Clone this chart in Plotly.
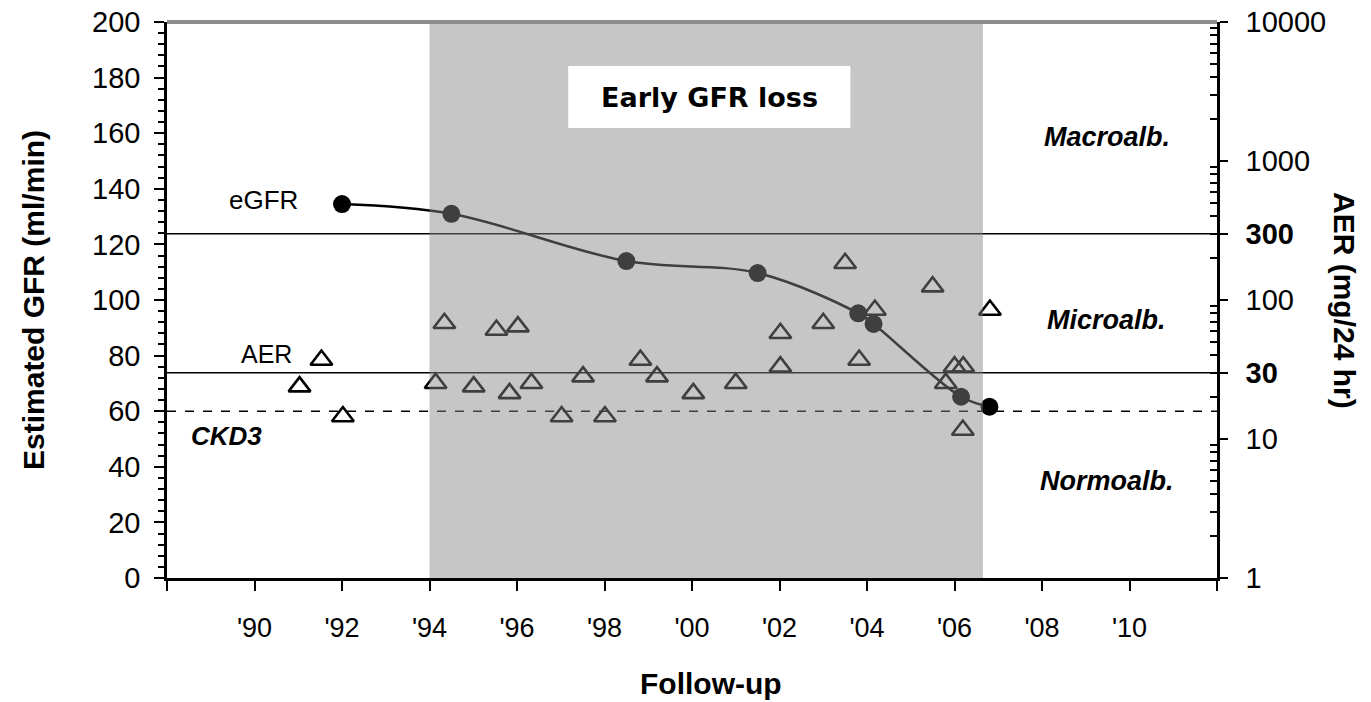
import plotly.graph_objects as go

# ---- data ----
egfr_year = [1992.0, 1994.5, 1998.5, 2001.5, 2003.8, 2004.15, 2006.15, 2006.8]
egfr_value = [134.5, 131, 114, 109.7, 95.2, 91.4, 65.2, 61.6]

aer_year = [1991.03, 1991.53, 1992.02, 1994.14, 1994.34, 1995.01, 1995.53, 1995.83,
            1996.02, 1996.33, 1997.02, 1997.51, 1998.01, 1998.82, 1999.20, 2000.03,
            2001.0, 2002.02, 2002.02, 2003.0, 2003.5, 2003.82, 2004.18, 2005.5,
            2005.8, 2006.0, 2006.2, 2006.19, 2006.81]
aer_value = [23.8, 37, 14.5, 25.2, 68, 23.8, 60.8, 21.3,
             64.3, 25.2, 14.5, 28.1, 14.5, 37, 28.1, 21.3,
             25.2, 33.1, 57.6, 68, 183.7, 37, 84.7, 124.7,
             25.2, 33.1, 33.1, 11.6, 84.7]

x_tickvals = list(range(1988, 2013, 2))
x_ticktext = ["", "'90", "'92", "'94", "'96", "'98", "'00", "'02", "'04", "'06", "'08", "'10", ""]
y_tickvals = list(range(0, 201, 20))
y2_tickvals = [1, 10, 30, 100, 300, 1000, 10000]
y2_ticktext = ["1", "10", "<b>30</b>", "100", "<b>300</b>", "1000", "10000"]

early_loss_start = 1994.0
early_loss_end = 2006.65
ckd3_gfr = 60
aer_micro = 30
aer_macro = 300

FONT = "Liberation Sans, Arial, sans-serif"

fig = go.Figure()

fig.add_trace(go.Scatter(
    x=egfr_year, y=egfr_value, mode="lines+markers", yaxis="y",
    line=dict(color="black", width=2.5, shape="spline", smoothing=1.0),
    marker=dict(color="black", size=18, symbol="circle"),
    showlegend=False, cliponaxis=False))

fig.add_trace(go.Scatter(
    x=aer_year, y=aer_value, mode="markers", yaxis="y2",
    marker=dict(symbol="triangle-up-open", size=19, color="black",
                line=dict(color="black", width=2.6)),
    showlegend=False, cliponaxis=False))

shapes = [
    dict(type="line", xref="paper", x0=0, x1=1, yref="y2", y0=aer_macro, y1=aer_macro,
         line=dict(color="black", width=1.6), layer="below"),
    dict(type="line", xref="paper", x0=0, x1=1, yref="y2", y0=aer_micro, y1=aer_micro,
         line=dict(color="black", width=1.6), layer="below"),
    dict(type="line", xref="paper", x0=0, x1=1, yref="y", y0=ckd3_gfr, y1=ckd3_gfr,
         line=dict(color="black", width=1.6, dash="dash"), layer="below"),
    dict(type="rect", xref="x", x0=early_loss_start, x1=early_loss_end, yref="paper", y0=0, y1=1,
         fillcolor="#858585", opacity=0.47, line=dict(width=0), layer="above"),
    dict(type="rect", xref="x", x0=1997.17, x1=2003.62, yref="y", y0=161.9, y1=184.2,
         fillcolor="white", line=dict(width=0), layer="above"),
    dict(type="line", xref="paper", x0=0, x1=1, yref="paper", y0=1, y1=1,
         line=dict(color="#8c8c8c", width=4), layer="above"),
]

annotations = [
    dict(x=2000.4, y=173, xref="x", yref="y", text="<b>Early GFR loss</b>", showarrow=False,
         font=dict(family="DejaVu Sans, Verdana, sans-serif", size=27, color="black")),
    dict(x=1990.2, y=136, xref="x", yref="y", text="eGFR", showarrow=False,
         font=dict(family=FONT, size=26, color="black")),
    dict(x=1990.28, y=80.6, xref="x", yref="y", text="AER", showarrow=False,
         font=dict(family=FONT, size=25, color="black")),
    dict(x=1989.37, y=51, xref="x", yref="y", text="<b><i>CKD3</i></b>", showarrow=False,
         font=dict(family=FONT, size=26, color="black")),
    dict(x=2009.48, y=158.6, xref="x", yref="y", text="<b><i>Macroalb.</i></b>", showarrow=False,
         font=dict(family=FONT, size=27, color="black")),
    dict(x=2009.48, y=92.8, xref="x", yref="y", text="<b><i>Microalb.</i></b>", showarrow=False,
         font=dict(family=FONT, size=27, color="black")),
    dict(x=2009.48, y=34.9, xref="x", yref="y", text="<b><i>Normoalb.</i></b>", showarrow=False,
         font=dict(family=FONT, size=27, color="black")),
    # axis titles
    dict(x=0, y=0.5, xref="paper", yref="paper", xshift=-134, text="<b>Estimated GFR (ml/min)</b>",
         textangle=-90, showarrow=False, xanchor="center", yanchor="middle",
         font=dict(family=FONT, size=30, color="black")),
    dict(x=1, y=0.5, xref="paper", yref="paper", xshift=128, yshift=0, text="<b>AER (mg/24 hr)</b>",
         textangle=90, showarrow=False, xanchor="center", yanchor="middle",
         font=dict(family=FONT, size=30, color="black")),
    dict(x=0.5, y=0, xref="paper", yref="paper", xshift=19, yshift=-105, text="<b>Follow-up</b>",
         showarrow=False, xanchor="center", yanchor="middle",
         font=dict(family=FONT, size=30, color="black")),
]

fig.update_layout(
    width=1371, height=702,
    margin=dict(l=167, r=154, t=22, b=124, autoexpand=False),
    paper_bgcolor="white", plot_bgcolor="white",
    shapes=shapes, annotations=annotations,
    xaxis=dict(
        range=[1988, 2012], tickmode="array", tickvals=x_tickvals, ticktext=x_ticktext,
        ticks="outside", ticklen=10, tickwidth=2, tickcolor="black", automargin=False,
        showline=True, linecolor="black", linewidth=2.5, showgrid=False, zeroline=False,
        tickfont=dict(family=FONT, size=27, color="black"),
        ticklabelstandoff=14, ticklabeloverflow="allow",
    ),
    yaxis=dict(
        range=[0, 200], tickmode="array", tickvals=y_tickvals, automargin=False,
        ticks="outside", ticklen=10, tickwidth=2, tickcolor="black",
        minor=dict(dtick=4, ticks="outside", ticklen=6, tickwidth=1.5, tickcolor="black", showgrid=False),
        showline=True, linecolor="black", linewidth=2.5, showgrid=False, zeroline=False,
        tickfont=dict(family=FONT, size=29, color="black"),
        ticklabelstandoff=8, ticklabeloverflow="allow",
    ),
    yaxis2=dict(
        type="log", range=[0, 4], overlaying="y", side="right", automargin=False,
        tickmode="array", tickvals=y2_tickvals, ticktext=y2_ticktext,
        ticks="outside", ticklen=8, tickwidth=2, tickcolor="black",
        minor=dict(tickmode="array",
                   tickvals=[m * 10 ** e for e in range(0, 4) for m in range(2, 10)],
                   ticks="inside", ticklen=7, tickwidth=1.5, tickcolor="black", showgrid=False),
        showline=True, linecolor="black", linewidth=2.5, showgrid=False, zeroline=False,
        tickfont=dict(family=FONT, size=29, color="black"),
        ticklabelstandoff=12, ticklabeloverflow="allow",
    ),
)

# remove the page's default 8px body margin so the figure fills the window exactly
fig.write_html("out.html", config={"displayModeBar": False},
               post_script="document.body.style.margin='0';")
